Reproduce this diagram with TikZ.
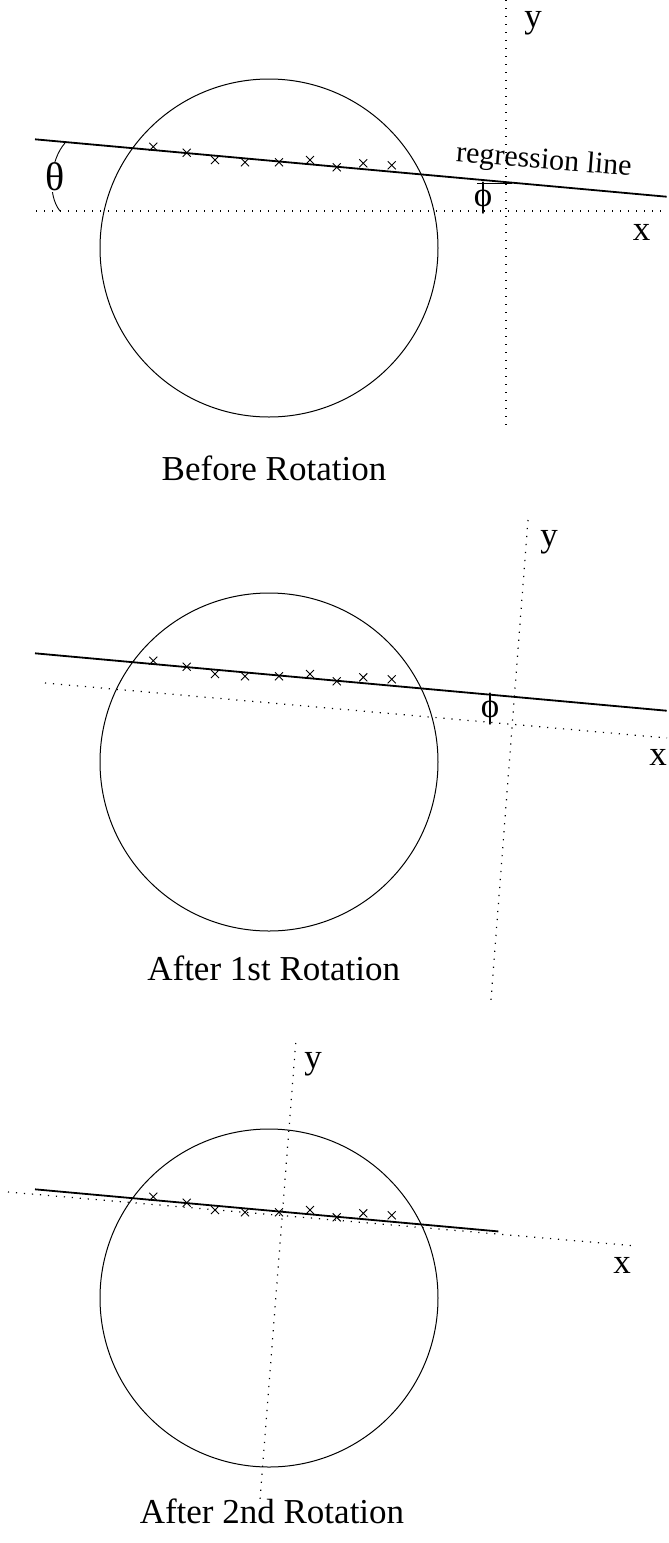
\documentclass[tikz,border=0pt]{standalone}
\usepackage{fontspec}
\setmainfont{Liberation Serif}
\usetikzlibrary{calc}

\tikzset{
  axisline/.style={line width=1.2pt, dash pattern=on 1.2pt off 6.8pt},
  regline/.style={line width=1.8pt},
  ringline/.style={line width=1pt},
  crossline/.style={line width=0.9pt},
  bigtext/.style={font=\fontsize{35}{40}\selectfont, inner sep=0pt},
  labtext/.style={font=\fontsize{30}{34}\selectfont, inner sep=0pt}
}

\begin{document}
\begin{tikzpicture}[x=1pt,y=-1pt]
  \useasboundingbox (0,0) rectangle (669,1543);
  % axes of the three panels
  \draw[axisline] (36,211) -- (667,211);
  \draw[axisline] (506,0) -- (506,430);
  \draw[axisline] (45,683) -- (667,738);
  \draw[axisline] (528,520) -- (491,1000);
  \draw[axisline] (8,1192) -- (637,1246);
  \draw[axisline] (295.7,1043) -- (260,1500);
  % circle, regression line and data points
  \foreach \dy/\xend in {0/666.7,514/666.7,1050/498.3} {
    \draw[ringline] (269,248+\dy) circle[radius=169pt];
    \draw[regline] (35,139.3+\dy) -- ({\xend},{139.3+0.0909*(\xend-35)+\dy});
    \foreach \px/\py in {153.3/146.7,186.7/152.7,215/160,245/162.3,279/162.3,
                         310/160,336.7/167.3,363.3/163.3,391.7/165.3}
      \draw[crossline] (\px-4,\py+\dy-4) -- (\px+4,\py+\dy+4)
                       (\px-4,\py+\dy+4) -- (\px+4,\py+\dy-4);
  }
  % angle theta
  \draw[crossline] (65,143) .. controls (50,160) and (47,195) .. (60,211);
  \node[font=\fontsize{40}{44}\selectfont, fill=white, inner sep=1pt] (theta) at (55,177) {θ};
  % angle phi
  \draw[crossline] (477,183) -- (512,183);
  \draw[crossline] (483,183) -- (483,211);
  \node[bigtext] (phione) at (483,198.5) {ϕ};
  \draw[crossline] (490,694.7) -- (490,722);
  \node[bigtext] (phitwo) at (490,709) {ϕ};
  \node[labtext, anchor=base, rotate=-4.5] (reglabel) at (543.3,168.8) {regression line};
  % axis labels
  \node[bigtext, anchor=base] (yone) at (533,27.4) {y};
  \node[bigtext, anchor=base] (xone) at (641.5,240) {x};
  \node[bigtext, anchor=base] (ytwo) at (549,546) {y};
  \node[bigtext, anchor=base] (xtwo) at (658,765) {x};
  \node[bigtext, anchor=base] (ythree) at (313,1068) {y};
  \node[bigtext, anchor=base] (xthree) at (622,1273) {x};
  % titles
  \node[bigtext, anchor=base] (titleone) at (274,480.7) {Before Rotation};
  \node[bigtext, anchor=base] (titletwo) at (273.7,980.7) {After 1st Rotation};
  \node[bigtext, anchor=base] (titlethree) at (272,1523) {After 2nd Rotation};
\end{tikzpicture}
\end{document}
